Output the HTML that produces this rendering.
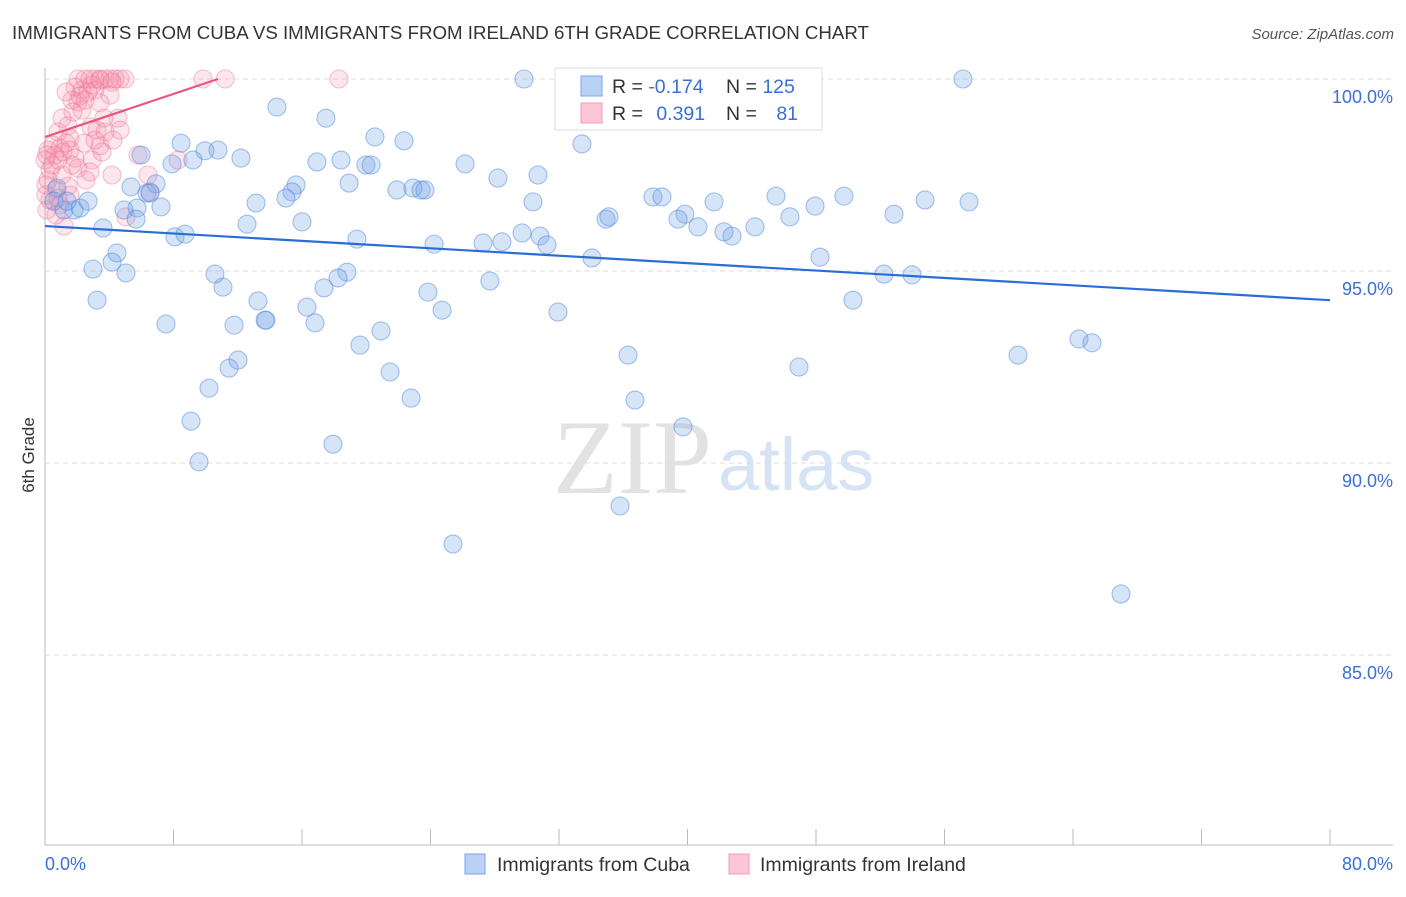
<!DOCTYPE html>
<html><head><meta charset="utf-8"><style>
body{margin:0;background:#fff;font-family:"Liberation Sans",sans-serif}
</style></head><body>
<svg id="chart" width="1406" height="892" xmlns="http://www.w3.org/2000/svg">
<text x="12" y="39" font-size="18.7" fill="#333">IMMIGRANTS FROM CUBA VS IMMIGRANTS FROM IRELAND 6TH GRADE CORRELATION CHART</text>
<text x="1394" y="39" font-size="15" fill="#555" font-style="italic" text-anchor="end">Source: ZipAtlas.com</text>
<g>
<text x="553" y="493" font-family="Liberation Serif" font-size="106" fill="#e2e2e2">ZIP</text>
<text x="718" y="490" font-size="74" fill="#d5e3f5">atlas</text>
</g>
<g id="grid"></g>
<g id="axes"></g>
<g id="pts"></g>
<g id="trend"></g>
<text transform="translate(34,455) rotate(-90)" font-size="17" fill="#333" text-anchor="middle">6th Grade</text>
<text x="45" y="870" font-size="18" fill="#3a6fd8">0.0%</text>
<text x="1393" y="870" font-size="18" fill="#3a6fd8" text-anchor="end">80.0%</text>
<g>
<rect x="555" y="68" width="267" height="62" fill="#fff" stroke="#ddd"/>
<rect x="581" y="76" width="21" height="20" fill="#b9d1f5" stroke="#7aa6e6"/>
<rect x="581" y="103" width="21" height="20" fill="#fcc5d5" stroke="#f29ab5"/>
<text x="612" y="93" font-size="19.5" fill="#333">R = <tspan fill="#3a6fd8">-0.174</tspan></text>
<text x="726" y="93" font-size="19.5" fill="#333">N = <tspan fill="#3a6fd8">125</tspan></text>
<text x="612" y="120" font-size="19.5" fill="#333">R = <tspan fill="#3a6fd8" dx="8">0.391</tspan></text>
<text x="726" y="120" font-size="19.5" fill="#333">N = <tspan fill="#3a6fd8" dx="14">81</tspan></text>
</g>
<g>
<rect x="465" y="854" width="20" height="20" fill="#b9d1f5" stroke="#7aa6e6"/>
<text x="497" y="871" font-size="19.5" fill="#333">Immigrants from Cuba</text>
<rect x="729" y="854" width="20" height="20" fill="#fcc5d5" stroke="#f29ab5"/>
<text x="760" y="871" font-size="19.5" fill="#333">Immigrants from Ireland</text>
</g>
</svg>
<script>
const cubaX=[14.44,17.49,8.47,20.54,22.35,33.43,29.82,57.15,5.98,9.96,10.77,12.20,7.91,9.21,16.93,18.43,19.98,20.30,26.15,28.20,30.69,0.75,5.35,6.91,6.35,6.54,15.63,15.38,15.00,18.93,21.91,22.91,23.41,23.66,37.85,38.41,45.51,49.74,54.79,57.53,13.14,5.73,7.22,4.92,1.18,1.81,2.18,2.68,0.56,1.37,30.38,47.94,41.65,52.86,39.84,39.41,34.93,35.11,46.38,12.58,3.61,16.00,5.67,8.09,8.72,19.42,24.22,27.27,28.45,29.70,30.82,31.25,40.65,42.27,42.77,44.20,34.05,48.25,4.48,2.99,4.17,5.04,10.58,11.08,18.80,18.24,17.37,27.70,23.84,3.24,13.26,16.31,24.72,52.23,53.98,50.30,7.53,11.77,13.70,13.76,16.81,20.92,31.94,12.02,11.46,19.61,21.48,36.30,46.94,60.58,64.37,65.18,10.21,22.79,36.73,9.09,17.93,39.72,9.59,35.80,25.40,66.99];
const cubaY=[99.27,98.98,98.33,98.49,98.39,98.31,100,100,98.02,98.13,98.15,97.94,97.79,97.89,97.84,97.89,97.76,97.76,97.79,97.42,97.50,97.16,97.19,97.27,97.03,97.03,97.24,97.06,96.90,97.29,97.11,97.16,97.11,97.11,96.93,96.93,96.95,96.95,96.85,96.80,96.77,96.64,96.67,96.59,96.59,96.59,96.64,96.82,96.82,96.82,96.80,96.69,96.80,96.48,96.48,96.35,96.35,96.41,96.41,96.22,96.12,96.28,96.35,95.89,95.96,95.83,95.70,95.73,95.76,95.99,95.91,95.68,96.15,96.02,95.91,96.15,95.34,95.36,95.47,95.05,95.23,94.95,94.92,94.58,94.97,94.82,94.56,94.74,94.45,94.24,94.22,94.06,93.98,94.92,94.90,94.24,93.62,93.59,93.72,93.72,93.65,93.44,93.93,92.68,92.47,93.07,92.37,92.81,92.50,92.81,93.23,93.13,91.95,91.69,91.64,91.09,90.49,90.94,90.03,88.88,87.89,86.59];
const irelandX=[2.05,2.49,2.80,3.11,3.42,3.74,4.05,4.36,4.67,4.98,9.84,11.21,18.30,1.87,2.30,2.68,2.18,3.11,4.05,1.68,2.05,3.42,1.74,4.54,1.43,2.86,3.24,3.74,1.56,3.42,0.50,0.93,0.19,0.62,1.12,1.56,0,0.81,1.87,2.93,5.79,8.28,0.31,1.06,2.05,2.80,4.17,6.41,0.06,0.68,1.43,0.31,0.93,1.56,0.12,1.18,5.04,0.19,0.44,1.31,2.43,3.67,4.67,0.81,0.12,2.49,1.06,3.42,4.17,2.93,1.31,2.30,3.11,3.55,4.23,1.68,2.55,0.68,0.06,6.54,0.81];
const irelandY=[100,100,100,100,100,100,100,100,100,100,100,100,100,99.79,99.71,99.66,99.56,99.71,99.58,99.45,99.40,99.38,99.14,98.98,98.78,98.75,98.67,98.62,98.46,98.26,98.28,98.20,98.15,98.02,98.10,98.15,97.89,97.89,97.94,97.89,98.02,97.89,97.63,97.50,97.68,97.58,97.50,97.50,97.24,97.11,97.21,96.85,96.72,96.98,96.59,96.17,96.41,97.37,97.76,98.33,98.33,98.98,98.67,98.62,98.02,99.45,98.98,99.97,99.92,99.84,99.66,99.19,98.41,98.10,98.41,97.76,97.37,96.46,96.98,97.06,96.90];
const trendCuba=[[0,96.17],[80,94.24]];
const trendIreland=[[0,98.49],[10.77,100]];
const yTicks=[100,95,90,85];
const yTickLabels=["100.0%","95.0%","90.0%","85.0%"];
const xTicks=[0,8,16,24,32,40,48,56,64,72,80];

const NS="http://www.w3.org/2000/svg";
const X0=45,X1=1330;
function sx(v){return X0+(v/80)*(X1-X0);}
function sy(v){return 79+(100-v)*38.4;}
function mk(tag,attrs,parent){const e=document.createElementNS(NS,tag);for(const k in attrs)e.setAttribute(k,attrs[k]);parent.appendChild(e);return e;}
const grid=document.getElementById('grid'),axes=document.getElementById('axes'),pts=document.getElementById('pts'),trend=document.getElementById('trend');
yTicks.forEach((t,i)=>{
  const l=mk('line',{x1:X0,x2:1393,y1:sy(t),y2:sy(t),stroke:'#ddd','stroke-dasharray':'5,4'},grid);
  
  
  const tx=mk('text',{x:1393,y:sy(t)+24,'font-size':18,fill:'#3a6fd8','text-anchor':'end'},grid);
  tx.textContent=yTickLabels[i];
  
  
});
const ya=mk('line',{x1:X0,x2:X0,y1:68,y2:845,stroke:'#bbb'},axes);


const xa=mk('line',{x1:X0,x2:1393,y1:845,y2:845,stroke:'#bbb'},axes);


xTicks.forEach(t=>{
  const l=mk('line',{x1:sx(t),x2:sx(t),y1:829,y2:845,stroke:'#bbb'},axes);
  
  
});
irelandX.forEach((v,i)=>{
  const c=mk('circle',{cx:sx(v),cy:sy(irelandY[i]),r:9,fill:'rgba(245,140,170,0.22)',stroke:'rgba(238,120,155,0.45)','stroke-width':1.1},pts);
  
  
});
cubaX.forEach((v,i)=>{
  const c=mk('circle',{cx:sx(v),cy:sy(cubaY[i]),r:9,fill:'rgba(120,165,230,0.3)',stroke:'rgba(80,135,220,0.5)','stroke-width':1.1},pts);
  
  
});
const tc=mk('line',{x1:sx(trendCuba[0][0]),y1:sy(trendCuba[0][1]),x2:sx(trendCuba[1][0]),y2:sy(trendCuba[1][1]),stroke:'#2a6dd6','stroke-width':2.2},trend);


const ti=mk('line',{x1:sx(trendIreland[0][0]),y1:sy(trendIreland[0][1]),x2:sx(trendIreland[1][0]),y2:sy(trendIreland[1][1]),stroke:'#e8557f','stroke-width':2.2},trend);


</script>
</body></html>
